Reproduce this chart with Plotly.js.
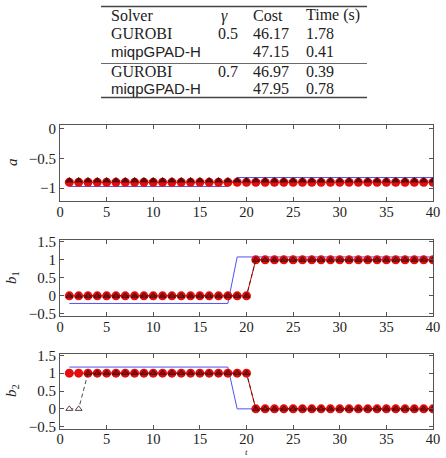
<!DOCTYPE html>
<html><head><meta charset="utf-8">
<script src="https://cdn.plot.ly/plotly-3.0.1.min.js"></script>
<style>html,body{margin:0;padding:0;background:#fff}#chart{width:446px;height:458px}</style>
</head><body><div id="chart"></div>
<script>
// ---- Data ----
const t = Array.from({length: 40}, (_, i) => i + 1);
const tableHeader = ["Solver", "γ", "Cost", "Time (s)"];
const tableSolver = ["GUROBI", "miqpGPAD-H", "GUROBI", "miqpGPAD-H"];
const tableGamma = ["0.5", "", "0.7", ""];
const tableCost = ["46.17", "47.15", "46.97", "47.95"];
const tableTime = ["1.78", "0.41", "0.39", "0.78"];

const aRef   = [-0.97,-0.97,-0.97,-0.97,-0.97,-0.97,-0.97,-0.97,-0.97,-0.97,-0.97,-0.97,-0.97,-0.97,-0.97,-0.97,-0.97,-0.97,-0.82,-0.82,-0.82,-0.82,-0.82,-0.82,-0.82,-0.82,-0.82,-0.82,-0.82,-0.82,-0.82,-0.82,-0.82,-0.82,-0.82,-0.82,-0.82,-0.82,-0.82,-0.82];
const aRed   = [-0.9,-0.9,-0.9,-0.9,-0.9,-0.9,-0.9,-0.9,-0.9,-0.9,-0.9,-0.9,-0.9,-0.9,-0.9,-0.9,-0.9,-0.9,-0.9,-0.9,-0.9,-0.9,-0.9,-0.9,-0.9,-0.9,-0.9,-0.9,-0.9,-0.9,-0.9,-0.9,-0.9,-0.9,-0.9,-0.9,-0.9,-0.9,-0.9,-0.9];
const aTri   = [-0.87,-0.87,-0.87,-0.87,-0.87,-0.87,-0.87,-0.87,-0.87,-0.87,-0.87,-0.87,-0.87,-0.87,-0.87,-0.87,-0.87,-0.87,-0.87,-0.87,-0.87,-0.87,-0.87,-0.87,-0.87,-0.87,-0.87,-0.87,-0.87,-0.87,-0.87,-0.87,-0.87,-0.87,-0.87,-0.87,-0.87,-0.87,-0.87,-0.87];

const b1Ref  = [-0.21,-0.21,-0.21,-0.21,-0.21,-0.21,-0.21,-0.21,-0.21,-0.21,-0.21,-0.21,-0.21,-0.21,-0.21,-0.21,-0.21,-0.21,1.08,1.08,1.08,1.08,1.08,1.08,1.08,1.08,1.08,1.08,1.08,1.08,1.08,1.08,1.08,1.08,1.08,1.08,1.08,1.08,1.08,1.08];
const b1Red  = [0,0,0,0,0,0,0,0,0,0,0,0,0,0,0,0,0,0,0,0,1,1,1,1,1,1,1,1,1,1,1,1,1,1,1,1,1,1,1,1];
const b1Tri  = [0,0,0,0,0,0,0,0,0,0,0,0,0,0,0,0,0,0,0,0,1,1,1,1,1,1,1,1,1,1,1,1,1,1,1,1,1,1,1,1];

const b2Ref  = [1.17,1.17,1.17,1.17,1.17,1.17,1.17,1.17,1.17,1.17,1.17,1.17,1.17,1.17,1.17,1.17,1.17,1.17,0,0,0,0,0,0,0,0,0,0,0,0,0,0,0,0,0,0,0,0,0,0];
const b2Red  = [1,1,1,1,1,1,1,1,1,1,1,1,1,1,1,1,1,1,1,1,0,0,0,0,0,0,0,0,0,0,0,0,0,0,0,0,0,0,0,0];
const b2Tri  = [0,0,1,1,1,1,1,1,1,1,1,1,1,1,1,1,1,1,1,1,0,0,0,0,0,0,0,0,0,0,0,0,0,0,0,0,0,0,0,0];

// ---- Traces ----
const blue = 'rgb(80,80,240)';
function panel(xa, ya, ref, red, tri, triFill) {
  return [
    {x: t, y: ref, xaxis: xa, yaxis: ya, mode: 'lines', line: {color: blue, width: 1}, hoverinfo: 'skip'},
    {x: t, y: red, xaxis: xa, yaxis: ya, mode: 'lines+markers', line: {color: 'rgb(230,0,0)', width: 1},
     marker: {symbol: 'circle', size: 9, color: 'rgb(232,12,12)', line: {width: 0}}},
    {x: t, y: tri, xaxis: xa, yaxis: ya, mode: 'lines+markers', line: {color: 'rgb(40,20,20)', width: 0.8, dash: '4px,3px'},
     marker: {symbol: 'triangle-up', size: 6, color: triFill, line: {color: 'rgb(40,20,20)', width: 0.8}}}
  ];
}
const triFillA = t.map(() => 'rgba(90,0,0,0.85)');
const triFillB1 = t.map(() => 'rgba(120,0,0,0.5)');
const triFillB2 = t.map((v, i) => i < 2 ? 'rgba(255,255,255,1)' : 'rgba(120,0,0,0.5)');
const data = [].concat(
  panel('x', 'y', aRef, aRed, aTri, triFillA),
  panel('x2', 'y2', b1Ref, b1Red, b1Tri, triFillB1),
  panel('x3', 'y3', b2Ref, b2Red, b2Tri, triFillB2)
);
data[2].line = {color: 'rgba(120,0,0,0.5)', width: 0.5, dash: '4px,3px'};

const tickFont = {family: 'Liberation Serif, DejaVu Serif, serif', size: 15, color: '#222'};
function xax(anchor, standoff) {
  return {domain: [60/446, 433/446], range: [0, 40], anchor: anchor, tickvals: [0,5,10,15,20,25,30,35,40],
    ticks: 'inside', ticklen: 4, tickcolor: '#555', mirror: 'ticks', showline: true, linecolor: '#555', linewidth: 1,
    showgrid: false, zeroline: false, tickfont: {family: tickFont.family, size: 14.5, color: '#222'}, ticklabelstandoff: standoff};
}
function yax(anchor, dom, range, tv, tt) {
  return {domain: dom, range: range, anchor: anchor, tickvals: tv, ticktext: tt,
    ticks: 'inside', ticklen: 4, tickcolor: '#555', mirror: 'ticks', showline: true, linecolor: '#555', linewidth: 1,
    showgrid: false, zeroline: false, tickfont: tickFont};
}
const H = 458;
const layout = {
  width: 446, height: 458, margin: {l: 0, r: 0, t: 0, b: 0}, showlegend: false,
  paper_bgcolor: '#fff', plot_bgcolor: '#fff',
  xaxis: xax('y', -2), xaxis2: xax('y2', -2), xaxis3: xax('y3', -3),
  yaxis: yax('x', [1 - 200.7/H, 1 - 125/H], [-1.21, 0.065], [-1, -0.5, 0], ['−1', '−0.5', '0']),
  yaxis2: yax('x2', [1 - 315.7/H, 1 - 240/H], [-0.55, 1.55], [-0.5, 0, 0.5, 1, 1.5], ['−0.5', '0', '0.5', '1', '1.5']),
  yaxis3: yax('x3', [1 - 428.5/H, 1 - 353.5/H], [-0.55, 1.55], [-0.5, 0, 0.5, 1, 1.5], ['−0.5', '0', '0.5', '1', '1.5']),
  annotations: [], shapes: []
};

// axis labels
const lblFont = {family: 'Liberation Serif, DejaVu Serif, serif', size: 15, color: '#222'};
[['<i>a</i>', 162], ['<i>b</i><sub>1</sub>', 278], ['<i>b</i><sub>2</sub>', 391]].forEach(([txt, yc]) => {
  layout.annotations.push({text: txt, xref: 'paper', yref: 'paper', x: 12/446, y: 1 - yc/H, showarrow: false,
    textangle: -90, font: lblFont, xanchor: 'center', yanchor: 'middle'});
});
layout.annotations.push({text: '<i>t</i>', xref: 'paper', yref: 'paper', x: 246/446, y: 0, showarrow: false,
  font: {family: 'Liberation Serif, serif', size: 9, color: '#222'}, xanchor: 'center', yanchor: 'bottom',
  borderpad: 0});

// table
const serif = {family: 'Liberation Serif, DejaVu Serif, serif', size: 16, color: '#222'};
const sans = {family: 'Liberation Sans, Arial, sans-serif', size: 15, color: '#222'};
const colX = [110, 217, 252, 305];
const rowY = [33.3, 51.7, 71.7, 88.3];
function tx(text, x, y, font) {
  layout.annotations.push({text: text, xref: 'paper', yref: 'paper', x: x/446, y: 1 - y/H, showarrow: false,
    xanchor: 'left', yanchor: 'middle', font: font, borderpad: 0});
}
tx(tableHeader[0], colX[0], 15, serif);
tx('<i>' + tableHeader[1] + '</i>', colX[1] + 3, 16, serif);
tx(tableHeader[2], colX[2], 15, serif);
tx(tableHeader[3], colX[3], 15, serif);
for (let i = 0; i < 4; i++) {
  tx(tableSolver[i], colX[0], rowY[i], tableSolver[i].startsWith('miqp') ? sans : serif);
  if (tableGamma[i]) tx(tableGamma[i], colX[1], rowY[i], serif);
  tx(tableCost[i], colX[2], rowY[i], serif);
  tx(tableTime[i], colX[3], rowY[i], serif);
}
function hline(y, w) {
  layout.shapes.push({type: 'line', xref: 'paper', yref: 'paper', x0: 101/446, x1: 367/446, y0: 1 - y/H, y1: 1 - y/H,
    line: {color: '#444', width: w}});
}
hline(6.5, 1.4); hline(63.5, 0.8); hline(97.5, 1.4);

Plotly.newPlot('chart', data, layout, {staticPlot: true});
</script></body></html>
